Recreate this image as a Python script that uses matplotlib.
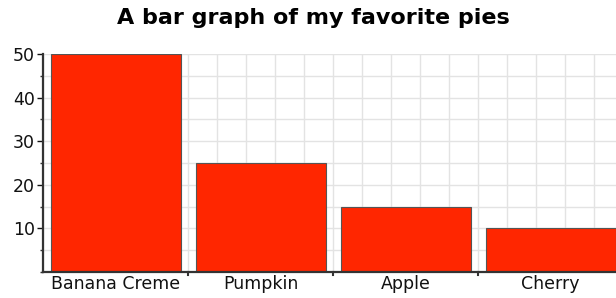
import matplotlib
matplotlib.use("Agg")
import matplotlib.pyplot as plt
import numpy as np
from matplotlib.ticker import MultipleLocator, FixedLocator, FixedFormatter

categories = ["Banana Creme", "Pumpkin", "Apple", "Cherry"]
values = [50, 25, 15, 10]
title = "A bar graph of my favorite pies"
y_ticks = [10, 20, 30, 40, 50]

W, H = 616, 298
fig = plt.figure(figsize=(W / 100, H / 100), dpi=100)
ax = fig.add_axes([43 / W, 26 / H, 580 / W, 218 / H])

n = len(categories)
idx = np.arange(n)
ax.bar(idx + 0.055, values, width=0.9, align="edge", color="#ff2600",
       edgecolor="#555555", linewidth=0.8, zorder=3)

ax.set_xlim(0, n)
ax.set_ylim(0, 50)

ax.yaxis.set_major_locator(FixedLocator(y_ticks))
ax.yaxis.set_minor_locator(MultipleLocator(5))
ax.xaxis.set_major_locator(FixedLocator(idx + 0.5))
ax.xaxis.set_major_formatter(FixedFormatter(categories))
ax.xaxis.set_minor_locator(MultipleLocator(0.2))
ax.grid(axis="y", which="both", color="#e3e3e3", linewidth=1.0, zorder=0)
ax.grid(axis="x", which="minor", color="#e3e3e3", linewidth=1.0, zorder=0)
ax.grid(axis="x", which="major", visible=False)
ax.set_axisbelow(True)

ax.tick_params(axis="x", which="major", length=0, labelsize=12.5, pad=2, colors="#111111")
ax.tick_params(axis="x", which="minor", length=0)
ax.tick_params(axis="y", which="major", length=4, width=1, labelsize=12.5, pad=2,
               colors="#111111", direction="out")
ax.tick_params(axis="y", which="minor", length=2.5, width=1, color="#333333")

# category boundary ticks on bottom
for b in range(1, n):
    ax.plot([b, b], [0, -0.015], transform=ax.get_xaxis_transform(), color="#333333",
            linewidth=1.5, clip_on=False, zorder=5)

for s in ["top", "right"]:
    ax.spines[s].set_visible(False)
for s in ["left", "bottom"]:
    ax.spines[s].set_color("#333333")
    ax.spines[s].set_linewidth(1.6)
    ax.spines[s].set_zorder(4)

fig.text(313 / W, 1 - 18 / H, title, ha="center", va="center", fontsize=16,
         fontweight="heavy", color="#000000")

fig.savefig("out.png", dpi=100)
